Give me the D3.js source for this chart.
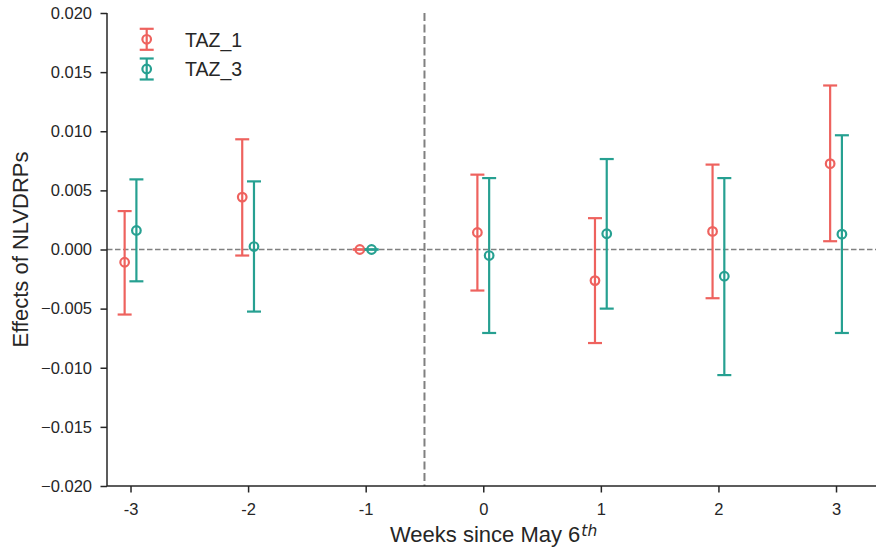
<!DOCTYPE html>
<html>
<head>
<meta charset="utf-8">
<script src="https://cdn.jsdelivr.net/npm/d3@7"></script>
<style>
  html, body { margin: 0; padding: 0; background: #fff; }
  svg { display: block; font-family: "Liberation Sans", Arial, sans-serif; }
</style>
</head>
<body>
<svg id="chart" width="876" height="552"></svg>
<script>
// ---- data ----
const weeks = [-3, -2, -1, 0, 1, 2, 3];
const xTickLabels = ["-3", "-2", "-1", "0", "1", "2", "3"];
const seriesNames = ["TAZ_1", "TAZ_3"];
const taz1Est   = [-0.00108, 0.00443, 0.0, 0.00144, -0.00263, 0.00153, 0.00726];
const taz1Lower = [-0.00550, -0.00051, 0.0, -0.00347, -0.00791, -0.00412, 0.00070];
const taz1Upper = [0.00325, 0.00932, 0.0, 0.00633, 0.00265, 0.00718, 0.01387];
const taz3Est   = [0.00161, 0.00025, 0.0, -0.00051, 0.00133, -0.00226, 0.00130];
const taz3Lower = [-0.00269, -0.00525, 0.0, -0.00706, -0.00500, -0.01062, -0.00706];
const taz3Upper = [0.00593, 0.00576, 0.0, 0.00604, 0.00765, 0.00604, 0.00966];
const yTicks = [-0.020, -0.015, -0.010, -0.005, 0.000, 0.005, 0.010, 0.015, 0.020];
const seriesOffsets = [-0.05, 0.05];
const colors = ["#ee625e", "#26a091"];

// ---- layout ----
const svg = d3.select("#chart");
const mLeft = 107, mRight = 876, mTop = 13, mBottom = 486;
const x = d3.scaleLinear().domain([-3.2, 3.34]).range([mLeft, mRight]);
const y = d3.scaleLinear().domain([-0.020, 0.020]).range([mBottom, mTop]);
const ink = "#262626";
const FONT = "Liberation Sans, Arial, sans-serif";

const series = [
  { name: seriesNames[0], est: taz1Est, lo: taz1Lower, hi: taz1Upper, color: colors[0], off: seriesOffsets[0] },
  { name: seriesNames[1], est: taz3Est, lo: taz3Lower, hi: taz3Upper, color: colors[1], off: seriesOffsets[1] }
];

// reference lines
svg.append("line")
  .attr("x1", mLeft).attr("x2", mRight)
  .attr("y1", y(0)).attr("y2", y(0))
  .attr("stroke", "#808080").attr("stroke-width", 1.5)
  .attr("stroke-dasharray", "5.5,2.5");
svg.append("line")
  .attr("x1", x(-0.5)).attr("x2", x(-0.5))
  .attr("y1", mTop).attr("y2", mBottom)
  .attr("stroke", "#808080").attr("stroke-width", 2)
  .attr("stroke-dasharray", "8,3.5");

// axes
const fmt = d3.format(".3f");
const yAxis = d3.axisLeft(y).tickValues(yTicks).tickSize(6.5).tickPadding(8.5)
  .tickFormat(d => (d < 0 ? "\u2212" + fmt(-d) : fmt(Math.abs(d))));
const gy = svg.append("g").attr("transform", `translate(${mLeft},0)`).call(yAxis);
gy.select(".domain").attr("stroke", ink).attr("stroke-width", 1.5).attr("d", `M0,${mTop}V${mBottom}`);
gy.selectAll(".tick line").attr("stroke", ink).attr("stroke-width", 1.5);
gy.selectAll(".tick text").attr("fill", ink).attr("font-size", 16.5).attr("font-family", FONT);

const xAxis = d3.axisBottom(x).tickValues(weeks).tickSize(6.5).tickPadding(10.5)
  .tickFormat((d, i) => xTickLabels[i]);
const gx = svg.append("g").attr("transform", `translate(0,${mBottom})`).call(xAxis);
gx.select(".domain").attr("stroke", ink).attr("stroke-width", 1.5).attr("d", `M${mLeft},0H${mRight}`);
gx.selectAll(".tick line").attr("stroke", ink).attr("stroke-width", 1.5);
gx.selectAll(".tick text").attr("fill", ink).attr("font-size", 16.5).attr("font-family", FONT);

// axis labels
svg.append("text")
  .attr("transform", `translate(28,${(mTop + mBottom) / 2}) rotate(-90)`)
  .attr("text-anchor", "middle")
  .attr("font-size", 22).attr("fill", ink)
  .text("Effects of NLVDRPs");
const xl = svg.append("text")
  .attr("x", 390).attr("y", 542)
  .attr("text-anchor", "start")
  .attr("font-size", 22).attr("fill", ink);
xl.append("tspan").text("Weeks since May 6");
xl.append("tspan").attr("dy", -6.5).attr("dx", 1)
  .attr("font-size", 15.5).attr("font-style", "italic")
  .attr("font-family", "DejaVu Sans, sans-serif").text("th");

// error bars
const capHalf = 7;
series.forEach(s => {
  const g = svg.append("g");
  weeks.forEach((w, i) => {
    const cx = x(w + s.off);
    g.append("line").attr("x1", cx).attr("x2", cx)
      .attr("y1", y(s.lo[i])).attr("y2", y(s.hi[i]))
      .attr("stroke", s.color).attr("stroke-width", 2.2);
    [s.lo[i], s.hi[i]].forEach(v => {
      g.append("line").attr("x1", cx - capHalf).attr("x2", cx + capHalf)
        .attr("y1", y(v)).attr("y2", y(v))
        .attr("stroke", s.color).attr("stroke-width", 2.2);
    });
    g.append("circle").attr("cx", cx).attr("cy", y(s.est[i])).attr("r", 4.3)
      .attr("fill", "none").attr("stroke", s.color).attr("stroke-width", 2.2);
  });
});

// legend
const legendY = [39.3, 69];
series.forEach((s, i) => {
  const lx = 146.7, ly = legendY[i];
  const g = svg.append("g");
  g.append("line").attr("x1", lx).attr("x2", lx).attr("y1", ly - 10.5).attr("y2", ly + 10.5)
    .attr("stroke", s.color).attr("stroke-width", 2.2);
  [ly - 10.5, ly + 10.5].forEach(v => {
    g.append("line").attr("x1", lx - 7).attr("x2", lx + 7).attr("y1", v).attr("y2", v)
      .attr("stroke", s.color).attr("stroke-width", 2.2);
  });
  g.append("circle").attr("cx", lx).attr("cy", ly).attr("r", 4.3)
    .attr("fill", "none").attr("stroke", s.color).attr("stroke-width", 2.2);
  g.append("text").attr("x", 185).attr("y", ly + 7.4)
    .attr("font-size", 19.5).attr("fill", ink).attr("font-family", FONT).text(s.name);
});
</script>
</body>
</html>
